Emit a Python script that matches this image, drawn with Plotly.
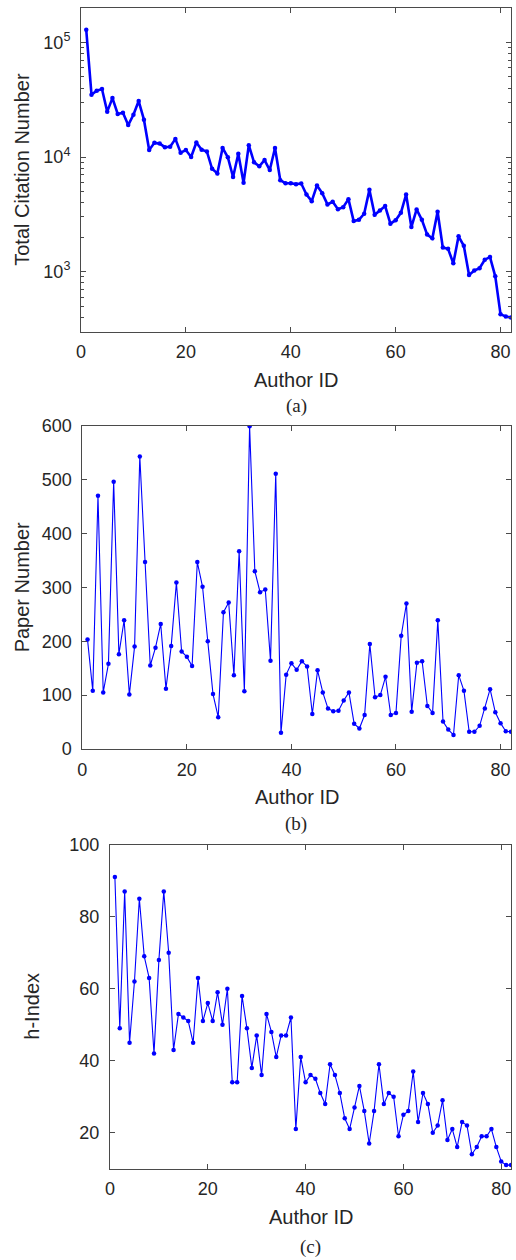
import plotly.graph_objects as go

author_id = list(range(1, 83))

citations = [129000, 35000, 37900, 39200, 24900, 32700, 23800, 24400, 19000, 23400,
             30800, 21200, 11500, 13300, 13100, 12200, 12300, 14400, 10900, 11500,
             10000, 13400, 11600, 11200, 7900, 7200, 12000, 9960, 6700, 10700,
             5960, 12700, 9000, 8300, 9400, 7700, 12000, 6280, 5900, 5900,
             5800, 5870, 4710, 4120, 5650, 4840, 3860, 4070, 3510, 3650,
             4290, 2760, 2830, 3200, 5170, 3130, 3420, 3730, 2620, 2810,
             3260, 4710, 2450, 3490, 2830, 2110, 1950, 3330, 1620, 1580,
             1180, 2030, 1680, 933, 1020, 1070, 1270, 1340, 910, 425,
             405, 397]

papers = [203, 108, 470, 105, 158, 496, 176, 239, 101, 190,
          543, 347, 155, 188, 232, 112, 191, 309, 181, 171,
          154, 347, 301, 200, 102, 59, 254, 272, 137, 367,
          107, 599, 330, 291, 296, 164, 511, 30, 138, 159,
          147, 163, 153, 65, 146, 105, 75, 70, 71, 90,
          105, 47, 38, 63, 195, 96, 100, 134, 63, 67,
          210, 270, 69, 160, 163, 80, 67, 239, 51, 36,
          26, 137, 108, 32, 32, 43, 75, 111, 68, 48,
          33, 32]

h_index = [91, 49, 87, 45, 62, 85, 69, 63, 42, 68,
           87, 70, 43, 53, 52, 51, 45, 63, 51, 56,
           51, 59, 50, 60, 34, 34, 58, 49, 38, 47,
           36, 53, 48, 41, 47, 47, 52, 21, 41, 34,
           36, 35, 31, 28, 39, 36, 31, 24, 21, 27,
           33, 26, 17, 26, 39, 28, 31, 30, 19, 25,
           26, 37, 23, 31, 28, 20, 22, 29, 18, 21,
           16, 23, 22, 14, 16, 19, 19, 21, 16, 12,
           11, 11]

x_ticks = [0, 20, 40, 60, 80]
cit_ticks = [1e3, 1e4, 1e5]
cit_ticktext = ["10<sup>3</sup>", "10<sup>4</sup>", "10<sup>5</sup>"]
cit_minor = [300, 400, 500, 600, 700, 800, 900,
             2000, 3000, 4000, 5000, 6000, 7000, 8000, 9000,
             20000, 30000, 40000, 50000, 60000, 70000, 80000, 90000]
paper_ticks = [0, 100, 200, 300, 400, 500, 600]
h_ticks = [20, 40, 60, 80, 100]

W, H = 516, 1260
BLUE = "#0000FF"
AX = "#4a4a4a"
TXT = "#262626"
SANS = "Liberation Sans, Arial, Helvetica, sans-serif"
SERIF = "Liberation Serif, Times New Roman, serif"


def xd(a, b):
    return [a / W, b / W]


def yd(top, bottom):
    return [1 - bottom / H, 1 - top / H]


common = dict(showline=True, linecolor=AX, linewidth=1, mirror="ticks",
              ticks="inside", ticklen=5, tickwidth=1, tickcolor=AX,
              showgrid=False, zeroline=False,
              tickfont=dict(family=SANS, size=18, color=TXT))

fig = go.Figure()
fig.add_trace(go.Scatter(x=author_id, y=citations, mode="lines+markers",
                         line=dict(color=BLUE, width=2.6),
                         marker=dict(color=BLUE, size=4.5),
                         xaxis="x", yaxis="y", showlegend=False))
fig.add_trace(go.Scatter(x=author_id, y=papers, mode="lines+markers",
                         line=dict(color=BLUE, width=1.1),
                         marker=dict(color=BLUE, size=4.5),
                         xaxis="x2", yaxis="y2", showlegend=False))
fig.add_trace(go.Scatter(x=author_id, y=h_index, mode="lines+markers",
                         line=dict(color=BLUE, width=1.1),
                         marker=dict(color=BLUE, size=4.5),
                         xaxis="x3", yaxis="y3", showlegend=False))

# panel geometry in pixels
A = dict(l=81, r=511, t=8, b=331.5)
B = dict(l=82.3, r=511, t=425.7, b=749)
C = dict(l=110, r=511, t=844.7, b=1168.7)

fig.update_layout(
    width=W, height=H,
    margin=dict(l=0, r=0, t=0, b=0, autoexpand=False),
    paper_bgcolor="white", plot_bgcolor="white",
    xaxis=dict(domain=xd(A["l"], A["r"]), anchor="y", range=[0, 82],
               tickvals=x_ticks, ticklabelstandoff=4, **common),
    yaxis=dict(domain=yd(A["t"], A["b"]), anchor="x", type="log",
               range=[2.4771, 5.30103], tickvals=cit_ticks, ticktext=cit_ticktext,
               ticklabelstandoff=6,
               minor=dict(tickmode="array", tickvals=cit_minor, ticks="inside",
                          ticklen=3, tickcolor=AX, showgrid=False),
               **common),
    xaxis2=dict(domain=xd(B["l"], B["r"]), anchor="y2", range=[0, 82],
                tickvals=x_ticks, ticklabelstandoff=4, **common),
    yaxis2=dict(domain=yd(B["t"], B["b"]), anchor="x2", range=[0, 600],
                tickvals=paper_ticks, ticklabelstandoff=6, **common),
    xaxis3=dict(domain=xd(C["l"], C["r"]), anchor="y3", range=[0, 82],
                tickvals=x_ticks, ticklabelstandoff=4, **common),
    yaxis3=dict(domain=yd(C["t"], C["b"]), anchor="x3", range=[10, 100],
                tickvals=h_ticks, ticklabelstandoff=6, **common),
)


def ann(text, xpx, ypx, font, size, angle=0):
    fig.add_annotation(text=text, x=xpx / W, y=1 - ypx / H, xref="paper", yref="paper",
                       showarrow=False, textangle=angle, xanchor="center", yanchor="middle",
                       font=dict(family=font, size=size, color=TXT))


# axis titles
ann("Author ID", (A["l"] + A["r"]) / 2, A["b"] + 48, SANS, 20)
ann("Author ID", (B["l"] + B["r"]) / 2, B["b"] + 48, SANS, 20)
ann("Author ID", (C["l"] + C["r"]) / 2, C["b"] + 48, SANS, 20)
ann("Total Citation Number", 22, (A["t"] + A["b"]) / 2, SANS, 20, -90)
ann("Paper Number", 22, (B["t"] + B["b"]) / 2, SANS, 20, -90)
ann("h-Index", 32, (C["t"] + C["b"]) / 2, SANS, 20, -90)
# captions
ann("(a)", 296, A["b"] + 75, SERIF, 19)
ann("(b)", 296, B["b"] + 75, SERIF, 19)
ann("(c)", 310, C["b"] + 78, SERIF, 19)

fig.write_html("out.html")
